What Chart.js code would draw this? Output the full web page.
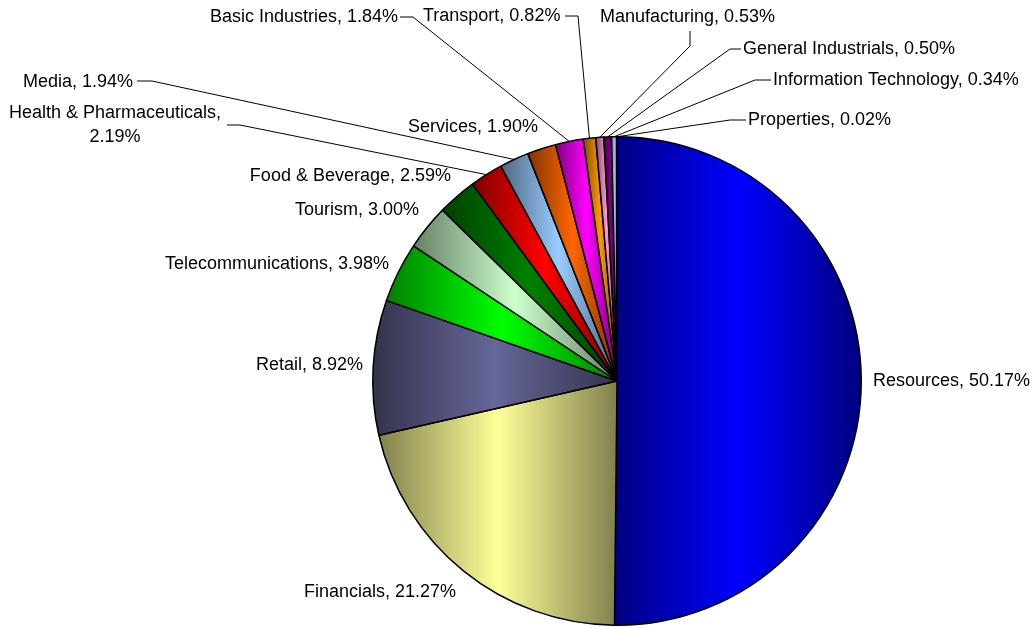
<!DOCTYPE html>
<html><head><meta charset="utf-8">
<script src="https://cdn.jsdelivr.net/npm/chart.js@4/dist/chart.umd.min.js"></script>
<style>html,body{margin:0;padding:0;background:#fff;}canvas{display:block;}</style>
</head><body>
<canvas id="c" width="1036" height="628"></canvas>
<script>
// ---- data ----
const categories = ['Resources','Financials','Retail','Telecommunications','Tourism','Food & Beverage',
  'Health & Pharmaceuticals','Media','Services','Basic Industries','Transport','Manufacturing',
  'General Industrials','Information Technology','Properties'];
const shares = [50.17, 21.27, 8.92, 3.98, 3.00, 2.59, 2.19, 1.94, 1.90, 1.84, 0.82, 0.53, 0.50, 0.34, 0.02];

// ---- styles ----
const sliceColors = ['#0000FF','#FFFF99','#666699','#00FF00','#CCFFCC','#008000','#FF0000','#99CCFF',
  '#FF6600','#FF00FF','#FF9900','#FF99CC','#800080','#99CCFF','#008080'];

// label placement (text anchor, alignment, leader-line start points near the text)
const labelLayout = [
  {x:873, y:381, align:'left'},
  {x:456, y:592, align:'right'},
  {x:363, y:365, align:'right'},
  {x:389, y:264, align:'right'},
  {x:419, y:210, align:'right'},
  {x:451, y:176.5, align:'right'},
  {x:115, y:113.5, align:'center', lines:2, leader:[[227,125],[240,125]]},
  {x:133, y:82, align:'right', leader:[[137,81],[152,81]]},
  {x:408, y:127, align:'left'},
  {x:398, y:17, align:'right', leader:[[400,17],[413,17]]},
  {x:423, y:16.5, align:'left', leader:[[565,16],[578,16]]},
  {x:600, y:17, align:'left', leader:[[690,31],[690,46]]},
  {x:743, y:49, align:'left', leader:[[741,49],[730,49]]},
  {x:773, y:80, align:'left', leader:[[771,80],[755,80]]},
  {x:748, y:120, align:'left', leader:[[746,120],[730,120]]}
];

function shade(hex, f) {
  const n = parseInt(hex.slice(1), 16);
  const r = Math.round(((n >> 16) & 255) * f), g = Math.round(((n >> 8) & 255) * f), b = Math.round((n & 255) * f);
  return 'rgb(' + r + ',' + g + ',' + b + ')';
}

function sliceFill(ctx) {
  const chart = ctx.chart, area = chart.chartArea, i = ctx.dataIndex;
  const base = sliceColors[i];
  if (!area) return base;
  const meta = chart.getDatasetMeta(0);
  const r = meta.controller.outerRadius || Math.min(area.width, area.height) / 2;
  const cx = (area.left + area.right) / 2;
  const data = ctx.dataset.data;
  const total = data.reduce((a, b) => a + b, 0);
  let before = 0;
  for (let k = 0; k < i; k++) before += data[k];
  const a0 = -Math.PI / 2 + 2 * Math.PI * before / total;
  const a1 = a0 + 2 * Math.PI * data[i] / total;
  const xs = [cx, cx + r * Math.cos(a0), cx + r * Math.cos(a1)];
  for (let k = -2; k <= 4; k++) {
    const ang = k * Math.PI;
    if (ang > a0 && ang < a1) xs.push(cx + r * Math.cos(ang));
  }
  const x0 = Math.min(...xs), x1 = Math.max(...xs);
  if (x1 - x0 < 1) return base;
  const g = chart.ctx.createLinearGradient(x0, 0, x1, 0);
  g.addColorStop(0, shade(base, 0.5));
  g.addColorStop(0.5, base);
  g.addColorStop(1, shade(base, 0.5));
  return g;
}

const labelPlugin = {
  id: 'outsideLabels',
  afterDatasetsDraw(chart) {
    const c = chart.ctx;
    const meta = chart.getDatasetMeta(0);
    c.save();
    c.font = '18px "Liberation Sans", Arial, sans-serif';
    c.fillStyle = '#000';
    c.textBaseline = 'middle';
    c.strokeStyle = '#000';
    c.lineWidth = 1;
    meta.data.forEach((arc, i) => {
      const L = labelLayout[i];
      const p = arc.getProps(['x','y','startAngle','endAngle','outerRadius'], true);
      const mid = (p.startAngle + p.endAngle) / 2;
      if (L.leader) {
        const ex = p.x + p.outerRadius * Math.cos(mid);
        const ey = p.y + p.outerRadius * Math.sin(mid);
        c.beginPath();
        c.moveTo(L.leader[0][0], L.leader[0][1]);
        for (let k = 1; k < L.leader.length; k++) c.lineTo(L.leader[k][0], L.leader[k][1]);
        c.lineTo(ex, ey);
        c.stroke();
      }
      c.textAlign = L.align;
      const val = shares[i].toFixed(2) + '%';
      if (L.lines === 2) {
        c.fillText(categories[i] + ',', L.x, L.y);
        c.fillText(val, L.x, L.y + 24);
      } else {
        c.fillText(categories[i] + ', ' + val, L.x, L.y);
      }
    });
    c.restore();
  }
};

new Chart(document.getElementById('c'), {
  type: 'pie',
  data: {
    labels: categories,
    datasets: [{
      data: shares,
      backgroundColor: sliceFill,
      borderColor: '#000',
      borderWidth: 1.5,
      borderJoinStyle: 'bevel',
      hoverOffset: 0,
      offset: 0
    }]
  },
  options: {
    responsive: false,
    animation: false,
    layout: { padding: { top: 135, bottom: 1, left: 372, right: 174 } },
    plugins: { legend: { display: false }, tooltip: { enabled: false } },
    events: []
  },
  plugins: [labelPlugin]
});
</script>
</body></html>
